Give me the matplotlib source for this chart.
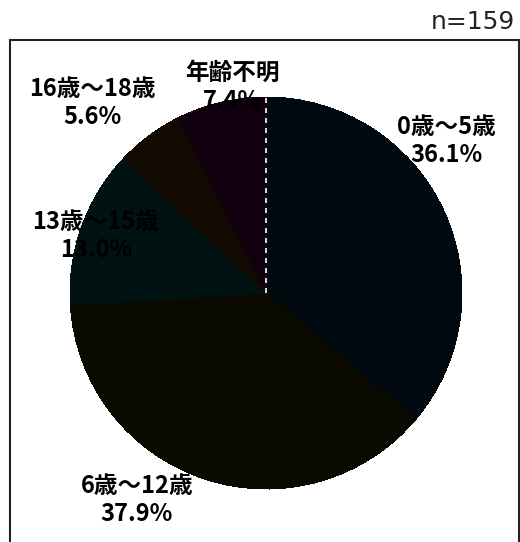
import matplotlib
matplotlib.use('Agg')
import matplotlib.pyplot as plt
from matplotlib.patches import Rectangle

plt.rcParams['font.family'] = ['Noto Sans CJK JP', 'DejaVu Sans']

labels = ['0歳～5歳', '6歳～12歳', '13歳～15歳', '16歳～18歳', '年齢不明']
shares = [36.1, 37.9, 13.0, 5.6, 7.4]
colors = ['#000810', '#0a0a00', '#001212', '#120a00', '#10000e']
# label centres in pixels (x, y from top)
label_pos = [(446, 141), (137, 500), (96, 236), (92, 103), (232, 87)]
n_total = 159

fig = plt.figure(figsize=(5.2, 5.42), dpi=100)
ax = fig.add_axes([0, 0, 1, 1])

# frame
ax.add_patch(Rectangle((10, -10), 509, 512, fill=False, edgecolor='#222222', linewidth=1.5))

wedges, _ = ax.pie(shares, colors=colors, startangle=90, counterclock=False,
                   center=(266, 249), radius=196, frame=True,
                   wedgeprops=dict(linewidth=0, antialiased=False, zorder=2))
ax.set_xlim(0, 520)
ax.set_ylim(0, 542)
ax.set_aspect('equal')
ax.axis('off')

# white dashed boundary at 12 o'clock
ax.plot([266, 266], [249, 445], color='white', linestyle=(0, (3, 3)),
        linewidth=1.2, zorder=3)

for lab, val, (x, y) in zip(labels, shares, label_pos):
    ax.text(x, 542 - y, f'{lab}\n{val:.1f}%', ha='center', va='center',
            fontsize=17, fontweight='bold', color='black', linespacing=1.25,
            zorder=4)

ax.text(515, 520, f'n={n_total}', ha='right', va='center', fontsize=18,
        color='#222222', family='DejaVu Sans')

fig.savefig('out.png', dpi=100)
